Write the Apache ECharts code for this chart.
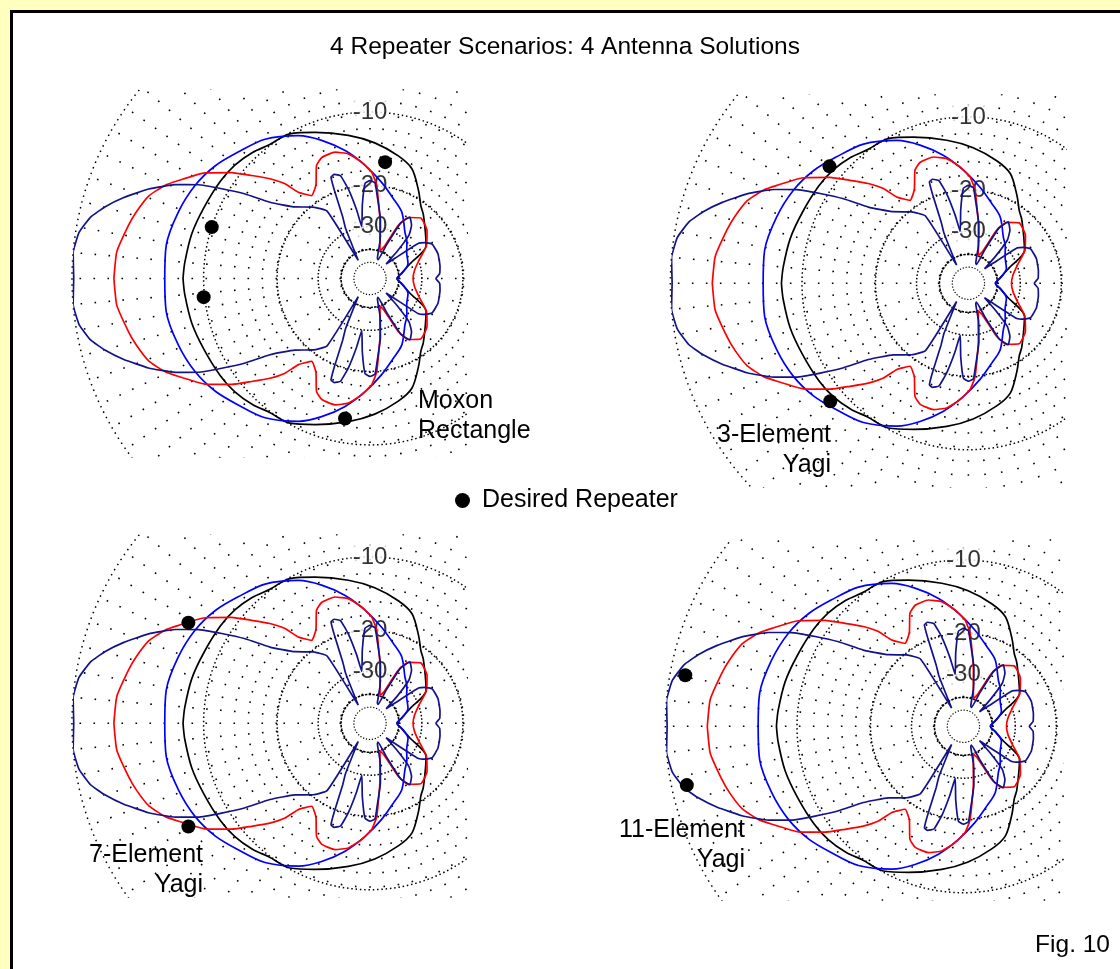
<!DOCTYPE html>
<html><head><meta charset="utf-8">
<style>html,body{margin:0;padding:0;background:#FFFFC0}#c{width:1120px;height:969px}</style>
<script src="https://cdn.jsdelivr.net/npm/echarts@6/dist/echarts.min.js"></script>
</head><body><div id="c"></div>
<script>
// ---------------- data ----------------
// Grid rings (dB) and their tick labels
const ringLevels = [0, -10, -20, -30, -40, -50];
const ringLabels = ['-10', '-20', '-30'];
const radialStepOuterDeg = 5;   // radials between -20 dB and 0 dB
const radialStepInnerDeg = 15;  // radials between -40 dB and -20 dB

// Azimuth patterns, upper half: [azimuth deg (0 = right, CCW), gain dB]; lower half is the mirror image
const moxonPattern = [[180,-8.0],[175,-8.1],[166,-8.3],[157,-8.6],[147,-8.8],[140,-9.0],[133,-9.4],[127,-9.9],[119,-10.1],[110.6,-11.1],[98.6,-12.4],[88,-13.5],[77,-14.8],[69,-16.0],[61,-18.7],[55,-20.8],[50.5,-21.8],[45,-23.2],[41,-24.1],[35,-25.3],[30.5,-26.1],[20,-33.5],[10,-38.1],[0,-41.2]];
const yagi3Pattern = [[180,-6.4],[170.8,-6.3],[160.9,-6.6],[152,-7.0],[143.9,-7.6],[136.2,-8.4],[127,-9.2],[116.6,-10.7],[109.3,-12.2],[101,-14.2],[92.5,-16.6],[83.1,-19.3],[73.7,-21.9],[64.4,-24.0],[52.9,-28.1],[45,-29.9],[35.6,-32.4],[21.5,-34.1],[10,-37.8],[0,-41.2]];
const yagi7Pattern = [[180,-2.6],[174,-2.7],[167.6,-3.2],[164.1,-3.5],[159.5,-4.0],[155.6,-4.8],[152.9,-5.6],[147.4,-7.2],[142.6,-9.2],[139,-11.0],[135.1,-12.8],[131.9,-14.6],[129.7,-16.8],[125.1,-18.5],[120,-17.4],[115.3,-14.9],[111.7,-14.2],[105.5,-14.1],[99.9,-14.7],[94.1,-16.1],[89.1,-17.7],[85.9,-19.9],[80,-28.2],[75,-35.1],[70,-39.8],[66,-36.8],[62,-27.5],[58,-24.4],[50,-22.8],[40,-23.8],[30,-26.1],[20,-30.0],[10,-32.4],[0,-33.2]];
const yagi11Pattern = [[180,-0.1],[175,0],[171,-0.2],[167.6,-0.7],[164.9,-1.4],[161.8,-2.4],[158,-3.8],[154.3,-5.5],[151.4,-7.2],[148.8,-9.3],[145.9,-11.7],[142.7,-14.8],[136.4,-18.1],[128.5,-20.3],[122.5,-22.6],[123,-45],[116,-28.8],[113.9,-25.5],[112,-19.6],[111,-17.3],[109,-17.1],[106,-17.6],[103.6,-20.2],[101,-25],[99,-29.8],[96,-24],[93,-19.6],[90,-19.1],[87,-19.5],[85,-22],[80,-27.5],[75,-35],[70,-45],[67,-46],[64,-36],[61,-26.5],[57,-24.1],[52,-25.5],[48,-28],[45,-35],[42,-45],[39,-38],[36,-27.5],[33,-25.9],[29,-24.6],[20,-24.3],[10,-24.6],[4,-24.9],[0,-25.9]];

// Desired repeaters per scenario: [azimuth deg, dB]
const repeatersMoxon = [[82.6,-16.0],[162.0,-10.0],[186.4,-9.9],[259.9,-12.7]];
const repeaters3El   = [[139.9,-8.5],[220.5,-8.5]];
const repeaters7El   = [[151.0,-6.2],[209.6,-6.1]];
const repeaters11El  = [[169.6,-0.9],[192.0,-0.9]];

const captionMoxon = ['Moxon', 'Rectangle'];
const caption3El   = ['3-Element', 'Yagi'];
const caption7El   = ['7-Element', 'Yagi'];
const caption11El  = ['11-Element', 'Yagi'];
const titleText = '4 Repeater Scenarios: 4 Antenna Solutions';
const legendText = 'Desired Repeater';
const figText = 'Fig. 10';

// ---------------- layout ----------------
const R0 = 298;
const FONT = '"Liberation Sans", Arial, sans-serif';
const panels = [
  {cx: 370,   cy: 278.5, rect: [72, 90, 466, 457],   reps: repeatersMoxon},
  {cx: 968.4, cy: 283.3, rect: [670, 95, 1065, 487], reps: repeaters3El},
  {cx: 370,   cy: 723.3, rect: [72, 535, 466, 897],  reps: repeaters7El},
  {cx: 963.4, cy: 726.3, rect: [665, 540, 1062, 900], reps: repeaters11El}
];
const curves = [
  {data: moxonPattern,  color: '#000000', smooth: 0.3},
  {data: yagi3Pattern,  color: '#0000ff', smooth: 0.3},
  {data: yagi7Pattern,  color: '#ff0000', smooth: 0.15},
  {data: yagi11Pattern, color: '#12128a', smooth: 0.12}
];

// ARRL log-periodic scale: radius fraction = 0.89^(-dB/2)
function arrl(db) { return Math.pow(0.89, -db / 2); }
function fullPattern(half) {
  const out = half.map(([a, d]) => [arrl(d), a]);
  for (let i = half.length - 2; i >= 0; i--) { const [a, d] = half[i]; out.push([arrl(d), 360 - a]); }
  return out;
}
function ringPts(db) {
  const r = arrl(db), pts = [];
  for (let t = 0; t <= 360; t += 1) { const a = t * Math.PI / 180; pts.push([r * Math.cos(a), r * Math.sin(a)]); }
  return pts;
}
function radialPts(step, r1, r2) {
  const pts = [];
  for (let t = 0; t < 360; t += step) {
    const a = t * Math.PI / 180, c = Math.cos(a), s = Math.sin(a);
    pts.push([r1 * c, r1 * s], [r2 * c, r2 * s], '-');
  }
  return pts;
}
const ringStyle = {
  '0':   {w: 1.5, dash: [1.5, 4.5]},
  '-10': {w: 1.5, dash: [1.5, 2.8]},
  '-20': {w: 1.5, dash: [1.5, 2.2]},
  '-30': {w: 1.5, dash: [1.5, 2.0]},
  '-40': {w: 1.6, dash: [2.5, 1.2]},
  '-50': {w: 1.2, dash: [1.2, 1.8]}
};

const option = {
  backgroundColor: '#FFFFC0',
  animation: false,
  polar: [], angleAxis: [], radiusAxis: [], grid: [], xAxis: [], yAxis: [], series: [],
  legend: {
    data: [{name: legendText, icon: 'circle'}],
    left: 455, top: 488, padding: 0, itemWidth: 15, itemHeight: 15, itemGap: 0, selectedMode: false,
    textStyle: {fontSize: 25, fontFamily: FONT, color: '#000', padding: [0, 0, 0, 7]}
  },
  graphic: []
};

panels.forEach((p, i) => {
  const [l, t, r, b] = p.rect;
  option.polar.push({center: [p.cx, p.cy], radius: R0});
  option.angleAxis.push({polarIndex: i, type: 'value', min: 0, max: 360, startAngle: 0, clockwise: false, show: false});
  option.radiusAxis.push({polarIndex: i, type: 'value', min: 0, max: 1, show: false});
  option.grid.push({left: l, top: t, width: r - l, height: b - t, containLabel: false});
  option.xAxis.push({gridIndex: i, type: 'value', min: (l - p.cx) / R0, max: (r - p.cx) / R0, show: false});
  option.yAxis.push({gridIndex: i, type: 'value', min: (p.cy - b) / R0, max: (p.cy - t) / R0, show: false});
  // grid rings
  ringLevels.forEach(db => {
    const st = ringStyle[String(db)];
    option.series.push({type: 'line', xAxisIndex: i, yAxisIndex: i, data: ringPts(db), showSymbol: false, silent: true, z: 1,
      lineStyle: {color: '#000', width: st.w, type: st.dash}});
  });
  // radials
  option.series.push({type: 'line', xAxisIndex: i, yAxisIndex: i, data: radialPts(radialStepOuterDeg, arrl(-20), 1), showSymbol: false, silent: true, connectNulls: false, z: 1,
    lineStyle: {color: '#000', width: 1.6, type: [1.6, 12.4]}});
  option.series.push({type: 'line', xAxisIndex: i, yAxisIndex: i, data: radialPts(radialStepInnerDeg, arrl(-40), arrl(-20)), showSymbol: false, silent: true, connectNulls: false, z: 1,
    lineStyle: {color: '#000', width: 1.6, type: [1.6, 12.4]}});
  // ring labels
  option.series.push({type: 'scatter', coordinateSystem: 'polar', polarIndex: i, silent: true, z: 3,
    symbolSize: 1, itemStyle: {color: 'rgba(0,0,0,0)'},
    data: ringLabels.map(s => ({value: [arrl(Number(s)), 90], name: s})),
    label: {show: true, position: 'inside', formatter: '{b}', fontSize: 24, fontFamily: FONT, color: '#000', backgroundColor: '#fff', padding: [0, 1]}});
  // patterns
  curves.forEach(c => {
    option.series.push({type: 'line', coordinateSystem: 'polar', polarIndex: i, data: fullPattern(c.data), showSymbol: false, silent: true, z: 4,
      smooth: c.smooth, lineStyle: {color: c.color, width: 1.7}});
  });
  // desired repeaters
  option.series.push({type: 'scatter', name: legendText, coordinateSystem: 'polar', polarIndex: i, z: 5, symbolSize: 14,
    itemStyle: {color: '#000', opacity: 1}, data: p.reps.map(([a, d]) => [arrl(d), a])});
});

function txt(text, x, y, align, size) {
  return {type: 'text', x: x, y: y, z: 100,
    style: {text: text, fill: '#000', font: size + 'px ' + FONT, fontSize: size, fontFamily: FONT,
      align: align, textAlign: align, verticalAlign: 'middle', textVerticalAlign: 'middle'}};
}
option.graphic = [
  {type: 'rect', z: -10, shape: {x: 11.5, y: 11.5, width: 1130, height: 990}, style: {fill: '#fff', stroke: '#000', lineWidth: 3}},
  txt(titleText, 565, 47, 'center', 24.5),
  txt(captionMoxon[0], 418, 401, 'left', 25), txt(captionMoxon[1], 418, 431, 'left', 25),
  txt(caption3El[0], 831, 435, 'right', 25), txt(caption3El[1], 831, 465, 'right', 25),
  txt(caption7El[0], 203, 855, 'right', 25), txt(caption7El[1], 203, 885, 'right', 25),
  txt(caption11El[0], 745, 830, 'right', 25), txt(caption11El[1], 745, 860, 'right', 25),
  txt(figText, 1110, 945, 'right', 24.5)
];

const chart = echarts.init(document.getElementById('c'), null, {renderer: 'canvas'});
chart.setOption(option);
</script></body></html>
